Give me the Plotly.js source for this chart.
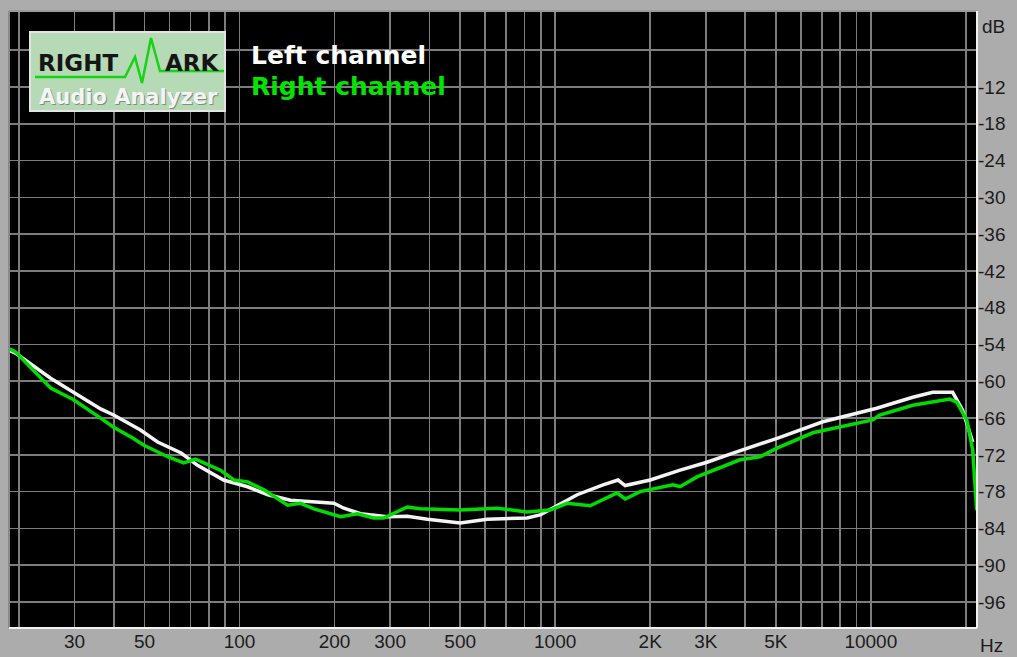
<!DOCTYPE html>
<html>
<head>
<meta charset="utf-8">
<script src="https://cdn.plot.ly/plotly-3.0.1.min.js"></script>
<style>html,body{margin:0;padding:0;background:#acacac;}#chart{width:1017px;height:657px;}</style>
</head>
<body>
<div id="chart"></div>
<script>
// ---- data ----
const leftFreq = [18.7, 19.5, 25.2, 36.3, 39.9, 48.4, 55, 65.3, 73.6, 89, 106, 123, 145, 199, 214, 242, 294, 340, 394, 500, 609, 815, 896, 1060, 1174, 1418, 1582, 1666, 2000, 2488, 3027, 3660, 5047, 7047, 10440, 13580, 15710, 18170, 19540, 21030];
const leftDb   = [-55.0, -55.4, -59.5, -64.5, -65.5, -67.9, -69.9, -71.7, -73.7, -76.1, -77.2, -78.5, -79.4, -79.9, -80.7, -81.6, -82.1, -82.0, -82.5, -83.1, -82.5, -82.3, -81.8, -79.7, -78.5, -76.9, -76.1, -77.0, -76.1, -74.5, -73.2, -71.7, -69.3, -66.6, -64.4, -62.6, -61.8, -61.8, -64.7, -69.9];

const rightFreq = [18.7, 19.5, 25.2, 29.8, 36.3, 39.9, 46, 49.6, 59.2, 66.5, 72.5, 87, 96, 106, 119.5, 142, 156, 172, 209, 236, 266, 286, 340, 374, 500, 655, 815, 964, 1091, 1200, 1290, 1571, 1666, 1859, 2362, 2488, 2812, 3849, 4455, 5047, 6552, 10140, 10670, 13580, 17790, 18710, 20140, 21030, 21650];
const rightDb   = [-54.7, -55.2, -61.1, -63.0, -66.0, -67.5, -69.3, -70.4, -72.3, -73.3, -72.7, -74.5, -76.1, -76.4, -77.7, -80.2, -79.9, -80.8, -82.1, -81.6, -82.3, -82.3, -80.5, -80.8, -81.0, -80.7, -81.3, -81.0, -79.9, -80.2, -80.3, -78.2, -79.2, -78.0, -76.9, -77.2, -75.6, -72.8, -72.3, -70.9, -68.4, -66.3, -65.5, -63.9, -62.9, -63.4, -66.3, -71.2, -81.0];

const xGridVals = [20,30,40,50,60,70,80,90,100,200,300,400,500,600,700,800,900,1000,2000,3000,4000,5000,6000,7000,8000,9000,10000,20000];
const xLabelMap = {30:'30',50:'50',100:'100',200:'200',300:'300',500:'500',1000:'1000',2000:'2K',3000:'3K',5000:'5K',10000:'10000'};
const yGridVals = [-6,-12,-18,-24,-30,-36,-42,-48,-54,-60,-66,-72,-78,-84,-90,-96];
const yLabels = ['', '-12','-18','-24','-30','-36','-42','-48','-54','-60','-66','-72','-78','-84','-90','-96'];
const seriesNames = ['Left channel', 'Right channel'];

// ---- layout geometry (pixels) ----
const W = 1017, H = 657;
const L = 9, R = 977, T = 11, B = 628;
const px = x => (x - L) / (R - L);
const py = y => (B - y) / (B - T);

const xTickText = xGridVals.map(v => xLabelMap[v] || '');

const traces = [
  {x: leftFreq, y: leftDb, type: 'scatter', mode: 'lines', name: seriesNames[0],
   line: {color: '#f4f4f4', width: 3.5}, hoverinfo: 'x+y'},
  {x: rightFreq, y: rightDb, type: 'scatter', mode: 'lines', name: seriesNames[1],
   line: {color: '#00dc00', width: 3.5}, hoverinfo: 'x+y'}
];

const tickFont = {family: 'Liberation Sans, Arial, sans-serif', size: 19, color: '#1c1c1c'};
const logoFont = 'DejaVu Sans, Verdana, sans-serif';

const wave = [[35,77],[125,77],[135,57],[142,83],[151,38],[160,71],[224,71]];
const wavePath = wave.map((p, i) => (i ? ' L' : 'M') + px(p[0]) + ',' + py(p[1])).join('');

const shapes = [
  // logo box
  {type: 'rect', xref: 'paper', yref: 'paper', x0: px(30), x1: px(225), y0: py(111), y1: py(32),
   fillcolor: '#b6d9b6', line: {color: '#e4e4e4', width: 2}, layer: 'above'},
  // logo waveform
  {type: 'path', xref: 'paper', yref: 'paper', layer: 'above', path: wavePath,
   line: {color: '#14d414', width: 2.5}},
  // plot frame
  {type: 'line', xref: 'paper', yref: 'paper', x0: 0, x1: 0, y0: 0, y1: 1, line: {color: '#8a8a8a', width: 2}, layer: 'above'},
  {type: 'line', xref: 'paper', yref: 'paper', x0: 0, x1: 1, y0: 1, y1: 1, line: {color: '#9a9a9a', width: 2}, layer: 'above'},
  {type: 'line', xref: 'paper', yref: 'paper', x0: 1, x1: 1, y0: 0, y1: 1, line: {color: '#f2f2f2', width: 2}, layer: 'above'},
  {type: 'line', xref: 'paper', yref: 'paper', x0: 0, x1: 1, y0: 0, y1: 0, line: {color: '#f2f2f2', width: 2}, layer: 'above'}
];

const annotations = [
  {xref: 'paper', yref: 'paper', x: px(980), y: py(26), xanchor: 'left', yanchor: 'middle', showarrow: false,
   text: 'dB', font: tickFont},
  {xref: 'paper', yref: 'paper', x: px(978), y: py(645), xanchor: 'left', yanchor: 'middle', showarrow: false,
   text: 'Hz', font: tickFont},
  {xref: 'paper', yref: 'paper', x: px(249), y: py(55), xanchor: 'left', yanchor: 'middle', showarrow: false,
   text: '<b>' + seriesNames[0] + '</b>', font: {family: logoFont, size: 25, color: '#ffffff'}},
  {xref: 'paper', yref: 'paper', x: px(249), y: py(86), xanchor: 'left', yanchor: 'middle', showarrow: false,
   text: '<b>' + seriesNames[1] + '</b>', font: {family: logoFont, size: 25, color: '#00e400'}},
  {xref: 'paper', yref: 'paper', x: px(36), y: py(63), xanchor: 'left', yanchor: 'middle', showarrow: false,
   text: '<b>RIGHT</b>', font: {family: logoFont, size: 23, color: '#151515'}},
  {xref: 'paper', yref: 'paper', x: px(222), y: py(63), xanchor: 'right', yanchor: 'middle', showarrow: false,
   text: '<b>ARK</b>', font: {family: logoFont, size: 23, color: '#151515'}},
  {xref: 'paper', yref: 'paper', x: px(129), y: py(98), xanchor: 'center', yanchor: 'middle', showarrow: false,
   text: '<b>Audio Analyzer</b>', font: {family: logoFont, size: 21, color: '#7f8f7f'}},
  {xref: 'paper', yref: 'paper', x: px(128), y: py(97), xanchor: 'center', yanchor: 'middle', showarrow: false,
   text: '<b>Audio Analyzer</b>', font: {family: logoFont, size: 21, color: '#f4f4f4'}}
];

const layout = {
  width: W, height: H,
  margin: {l: L, r: W - R, t: T, b: H - B, pad: 0},
  paper_bgcolor: '#acacac',
  plot_bgcolor: '#000000',
  showlegend: false,
  xaxis: {
    type: 'log',
    range: [Math.log10(18.6), Math.log10(21700)],
    tickmode: 'array', tickvals: xGridVals, ticktext: xTickText,
    showgrid: true, gridcolor: '#7d7d7d', gridwidth: 1.6,
    zeroline: false, showline: false, ticks: '', ticklen: 0,
    tickfont: tickFont, fixedrange: true
  },
  yaxis: {
    side: 'right',
    range: [-100.24, 0.4],
    tickmode: 'array', tickvals: yGridVals, ticktext: yLabels,
    showgrid: true, gridcolor: '#7d7d7d', gridwidth: 1.6,
    zeroline: false, showline: false, ticks: '', ticklen: 0,
    tickfont: tickFont, fixedrange: true
  },
  shapes: shapes,
  annotations: annotations
};

Plotly.newPlot('chart', traces, layout, {displayModeBar: false, staticPlot: true});
</script>
</body>
</html>
